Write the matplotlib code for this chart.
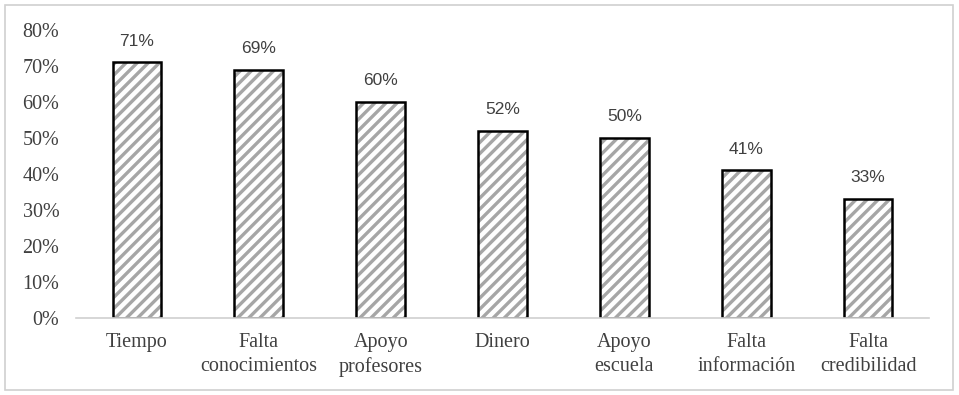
import matplotlib.pyplot as plt
from matplotlib.patches import Rectangle

# data
categories = ["Tiempo", "Falta\nconocimientos", "Apoyo\nprofesores", "Dinero",
              "Apoyo\nescuela", "Falta\ninformación", "Falta\ncredibilidad"]
values = [71, 69, 60, 52, 50, 41, 33]
yticks = [0, 10, 20, 30, 40, 50, 60, 70, 80]

plt.rcParams['hatch.linewidth'] = 2.4
plt.rcParams['hatch.color'] = '#a6a6a6'

fig = plt.figure(figsize=(9.59, 3.95), dpi=100)
ax = fig.add_axes([76 / 959, (395 - 318) / 395, (929 - 76) / 959, 288 / 395])

x = range(len(categories))
# hatched fill, then black outline on top
ax.bar(x, values, width=0.4, color='white', edgecolor='#a6a6a6', linewidth=0, hatch='///')
ax.bar(x, values, width=0.4, fill=False, edgecolor='black', linewidth=1.8)

for xi, v in zip(x, values):
    ax.annotate(f"{v}%", (xi, v), xytext=(0, 10), textcoords='offset points',
                ha='center', va='bottom', fontsize=12.5, family='Liberation Sans', color='#404040')

ax.set_xlim(-0.5, len(categories) - 0.5)
ax.set_ylim(0, 80)
ax.set_yticks(yticks)
ax.set_yticklabels([f"{t}%" for t in yticks], family='Liberation Serif', fontsize=14.5, color='#404040')
ax.set_xticks(list(x))
ax.set_xticklabels(categories, family='Liberation Serif', fontsize=14.5, color='#404040', linespacing=1.35)
ax.tick_params(axis='both', length=0)
ax.tick_params(axis='x', pad=11)
ax.tick_params(axis='y', pad=12)

for s in ['top', 'right', 'left']:
    ax.spines[s].set_visible(False)
ax.spines['bottom'].set_color('#d0d0d0')
ax.spines['bottom'].set_linewidth(1.2)

# light frame around the whole chart
fig.patches.append(Rectangle((5 / 959, 5 / 395), 948 / 959, 385 / 395, transform=fig.transFigure,
                             fill=False, edgecolor='#d0d0d0', linewidth=1.2))

fig.savefig("out.png", dpi=100)
